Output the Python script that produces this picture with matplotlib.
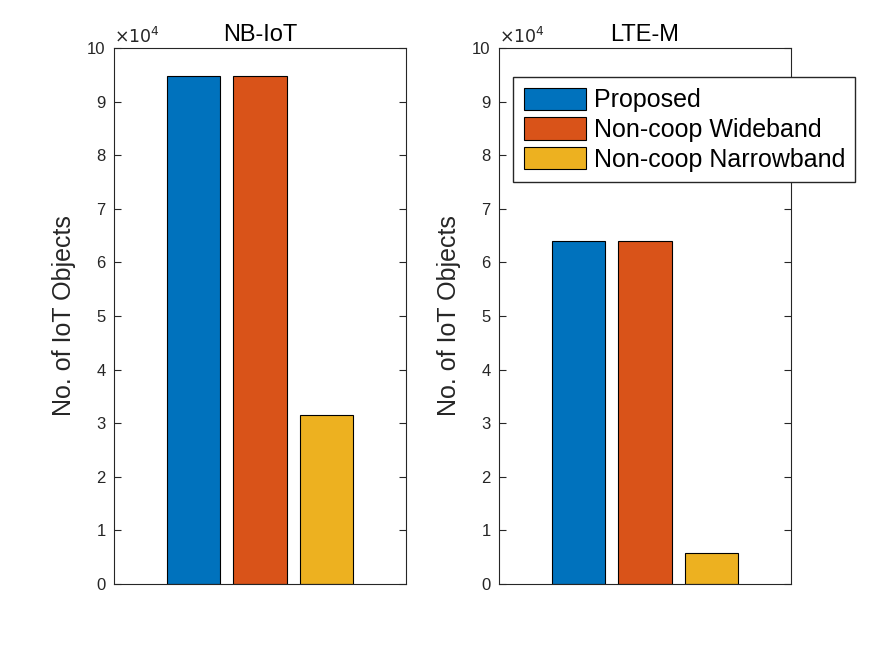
import matplotlib
matplotlib.use("Agg")
import matplotlib.pyplot as plt
import numpy as np

titles = ["NB-IoT", "LTE-M"]
series = ["Proposed", "Non-coop Wideband", "Non-coop Narrowband"]
nbiot = [94800, 94800, 31500]
ltem = [64000, 64000, 5800]
colors = ["#0072BD", "#D95319", "#EDB120"]
yticks = list(range(0, 11))

plt.rcParams['font.family'] = ['Liberation Sans', 'DejaVu Sans']

fig = plt.figure(figsize=(8.75, 6.57), dpi=100)
positions = [[0.1303, 0.1111, 0.3337, 0.8159], [0.5703, 0.1111, 0.3337, 0.8159]]
data = [nbiot, ltem]
axc = '#262626'
handles = None
for i, (pos, vals, title) in enumerate(zip(positions, data, titles)):
    ax = fig.add_axes(pos)
    x = np.arange(1, 4)
    bars = []
    for j in range(3):
        b = ax.bar(x[j], vals[j] / 1e4, width=0.8, color=colors[j],
                   edgecolor='black', linewidth=0.8, label=series[j])
        bars.append(b)
    handles = bars
    ax.set_xlim(-0.2, 4.2)
    ax.set_ylim(0, 10)
    ax.set_xticks([])
    ax.set_yticks(yticks)
    ax.set_yticklabels([str(t) for t in yticks], fontsize=12, color=axc)
    ax.tick_params(axis='y', direction='in', right=True, length=5, width=0.8, colors=axc, pad=6)
    for s in ax.spines.values():
        s.set_color(axc)
        s.set_linewidth(0.8)
    ax.set_title(title, fontsize=17, color='black', pad=5)
    ax.set_ylabel("No. of IoT Objects", fontsize=18, color=axc, labelpad=8)
    ax.text(0.0, 1.003, r"$\times10^{4}$", transform=ax.transAxes, fontsize=12.5,
            color=axc, ha='left', va='bottom')

fig.legend(handles=handles, labels=series, loc='upper left',
           bbox_to_anchor=(513 / 875, 1 - 77 / 657), fontsize=18,
           frameon=True, fancybox=False, edgecolor=axc, framealpha=1,
           handlelength=2.5, handleheight=1.0, borderpad=0.42, labelspacing=0.2,
           handletextpad=0.3, borderaxespad=0)

fig.savefig("out.png", dpi=100)
